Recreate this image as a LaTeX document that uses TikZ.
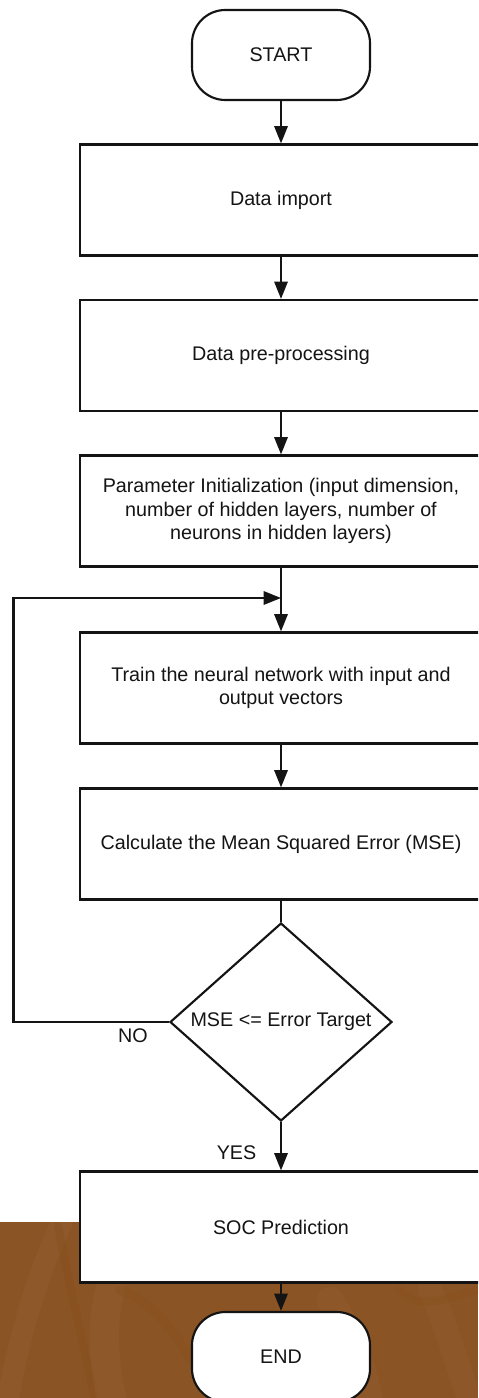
\documentclass[tikz,border=0pt]{standalone}
\usepackage{fontspec}
\setmainfont{Liberation Sans}
\usetikzlibrary{arrows.meta,shapes.geometric}
\definecolor{woodbrown}{RGB}{139,84,36}
\definecolor{woodlight}{RGB}{152,98,58}
\definecolor{wooddark}{RGB}{134,78,24}
\definecolor{inkline}{RGB}{20,20,20}

\begin{document}
\begin{tikzpicture}[x=0.75pt,y=-0.75pt,
  every node/.style={font=\fontsize{14.8pt}{17.6pt}\selectfont, text=inkline},
  process/.style={draw=inkline, line width=1.6pt, fill=white, minimum width=301.5pt,
    minimum height=83.25pt, align=center, inner sep=0pt},
  terminal/.style={draw=inkline, line width=1.6pt, fill=white, rounded corners=25pt,
    minimum width=133.5pt, minimum height=67.5pt, inner sep=0pt},
  decision/.style={draw=inkline, line width=1.6pt, fill=white, diamond,
    minimum width=166.5pt, minimum height=148.5pt, inner sep=0pt},
  flow/.style={draw=inkline, line width=1.6pt, -{Triangle[width=10pt,length=13pt]}},
  link/.style={draw=inkline, line width=1.6pt}]

% canvas
\clip (0,0) rectangle (478,1398);
\fill[white] (0,0) rectangle (478,1398);

% wooden strip along the bottom
\fill[woodbrown] (0,1222) rectangle (478,1398);
\begin{scope}
  \clip (0,1222) rectangle (478,1398);
  \draw[woodlight, opacity=0.35, line width=16pt, line cap=round]
    (8,1400) .. controls (20,1330) and (40,1270) .. (62,1222);
  \draw[wooddark, opacity=0.35, line width=6pt, line cap=round]
    (58,1226) .. controls (70,1290) and (85,1350) .. (95,1400);
  \draw[woodlight, opacity=0.3, line width=22pt, line cap=round]
    (110,1290) .. controls (100,1330) and (105,1370) .. (112,1400);
  \draw[wooddark, opacity=0.3, line width=7pt, line cap=round]
    (120,1290) .. controls (150,1300) and (175,1330) .. (190,1360);
  \draw[woodlight, opacity=0.25, line width=20pt, line cap=round]
    (330,1300) .. controls (350,1330) and (360,1360) .. (370,1400);
  \draw[woodlight, opacity=0.25, line width=18pt, line cap=round]
    (430,1290) .. controls (445,1320) and (455,1360) .. (470,1400);
  \draw[wooddark, opacity=0.3, line width=6pt, line cap=round]
    (400,1290) .. controls (420,1310) and (440,1300) .. (478,1290);
\end{scope}

% flow chart nodes
\node[terminal] (start) at (281,55)   {START};
\node[process]  (data)  at (281,200)  {Data import};
\node[process]  (prep)  at (281,355.5){Data pre-processing};
\node[process]  (param) at (281,511)  {Parameter Initialization (input dimension,\\
  number of hidden layers, number of\\ neurons in hidden layers)};
\node[process]  (train) at (281,688)  {Train the neural network with input and\\ output vectors};
\node[process]  (calc)  at (281,844)  {Calculate the Mean Squared Error (MSE)};
\node[decision] (dec)   at (281,1022) {};
\node (dectext) at (dec.center) {MSE <= Error Target};
\node[process]  (soc)   at (281,1227) {SOC Prediction};
\node[terminal] (stop)  at (281,1357) {END};

% connectors
\coordinate (merge) at (281,598);
\coordinate (loop)  at (13.5,1022);

\draw[flow] (start) -- (data);
\draw[flow] (data) -- (prep);
\draw[flow] (prep) -- (param);
\draw[flow] (param) -- (train);
\draw[flow] (train) -- (calc);
\draw[link] (calc) -- (dec);
\draw[flow] (dec.west) -- (loop) |- (merge);
\draw[flow] (dec) -- (soc);
\draw[flow] (soc) -- (stop);

% branch labels
\node (no)  at (133,1036)   {NO};
\node (yes) at (236.5,1153) {YES};
\end{tikzpicture}
\end{document}
